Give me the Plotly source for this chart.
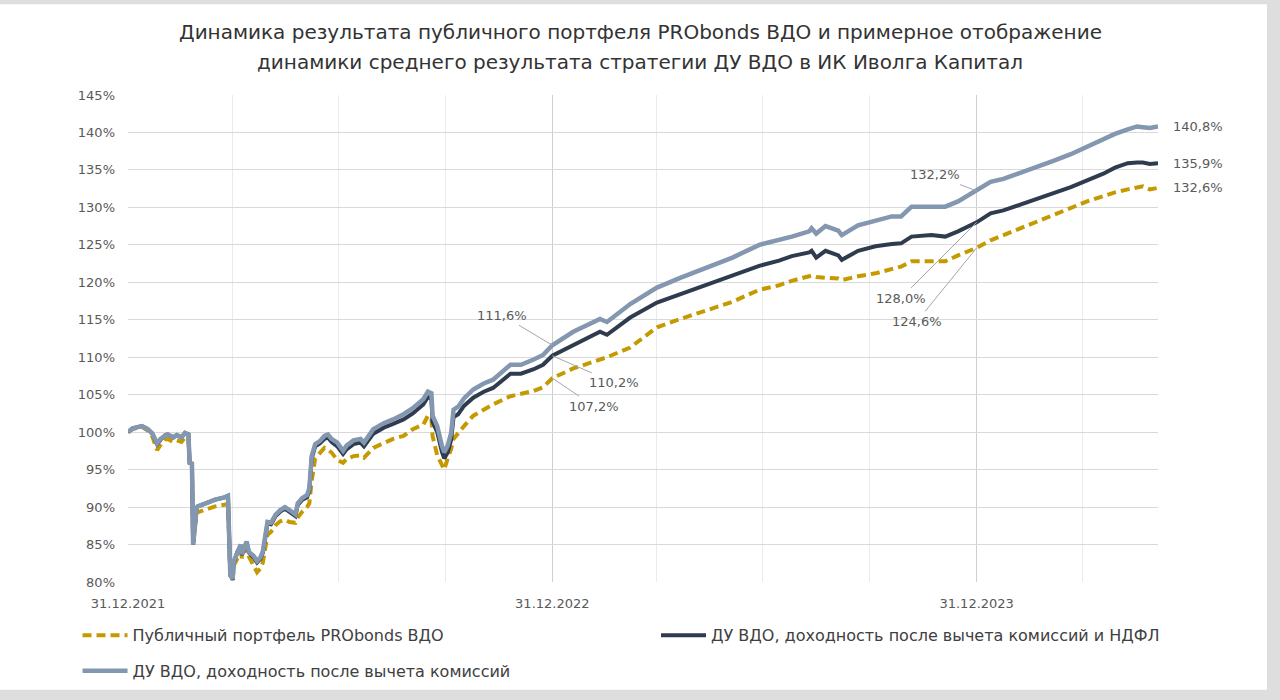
import plotly.graph_objects as go

# ---------------- data ----------------
dates = [
    "2021-12-31", "2022-01-04", "2022-01-12", "2022-01-17", "2022-01-21", "2022-01-25",
    "2022-01-28", "2022-02-01", "2022-02-03", "2022-02-08", "2022-02-11", "2022-02-15",
    "2022-02-18", "2022-02-21", "2022-02-22", "2022-02-24", "2022-02-25", "2022-02-28",
    "2022-03-01", "2022-03-08", "2022-03-16", "2022-03-24", "2022-03-27", "2022-03-29",
    "2022-03-31", "2022-04-01", "2022-04-04", "2022-04-07", "2022-04-08", "2022-04-12",
    "2022-04-14", "2022-04-18", "2022-04-21", "2022-04-24", "2022-04-26", "2022-04-30",
    "2022-05-03", "2022-05-07", "2022-05-11", "2022-05-15", "2022-05-19", "2022-05-24",
    "2022-05-26", "2022-05-30", "2022-06-03", "2022-06-05", "2022-06-07", "2022-06-10",
    "2022-06-14", "2022-06-18", "2022-06-21", "2022-06-24", "2022-06-29", "2022-07-04",
    "2022-07-07", "2022-07-13", "2022-07-19", "2022-07-22", "2022-07-30", "2022-08-08",
    "2022-08-16", "2022-08-25", "2022-09-02", "2022-09-11", "2022-09-15", "2022-09-18",
    "2022-09-19", "2022-09-23", "2022-09-27", "2022-09-29", "2022-10-02", "2022-10-05",
    "2022-10-07", "2022-10-11", "2022-10-16", "2022-10-24", "2022-11-02", "2022-11-10",
    "2022-11-25", "2022-12-04", "2022-12-15", "2022-12-23", "2022-12-31", "2023-01-18",
    "2023-02-10", "2023-02-16", "2023-03-08", "2023-03-31", "2023-04-20", "2023-05-13",
    "2023-06-04", "2023-06-27", "2023-07-14", "2023-07-25", "2023-08-09", "2023-08-11",
    "2023-08-15", "2023-08-23", "2023-09-03", "2023-09-06", "2023-09-20", "2023-10-05",
    "2023-10-19", "2023-10-27", "2023-11-05", "2023-11-22", "2023-12-04", "2023-12-15",
    "2023-12-31", "2024-01-12", "2024-01-23", "2024-02-07", "2024-02-21", "2024-03-06",
    "2024-03-21", "2024-04-04", "2024-04-18", "2024-04-28", "2024-05-09", "2024-05-17",
    "2024-05-22", "2024-05-28", "2024-06-04",
]

# ДУ ВДО, доходность после вычета комиссий (light blue-grey)
du_fees = [
    100.0, 100.5, 100.8, 100.4, 99.8, 98.5, 99.1, 99.6, 99.7, 99.3, 99.6, 99.3,
    99.9, 99.7, 95.9, 95.8, 85.0, 89.9, 90.1, 90.5, 91.0, 91.3, 91.5, 81.0,
    80.4, 82.8, 84.1, 85.0, 83.7, 85.4, 84.0, 83.5, 82.8, 83.3, 84.1, 88.0,
    87.9, 89.0, 89.6, 90.0, 89.6, 89.0, 90.5, 91.2, 91.6, 92.5, 96.8, 98.4,
    98.8, 99.5, 99.7, 99.1, 98.6, 97.5, 98.2, 98.9, 99.1, 98.6, 100.4, 101.2,
    101.7, 102.4, 103.2, 104.4, 105.4, 105.2, 102.2, 100.8, 98.2, 97.3, 98.2, 99.9,
    103.0, 103.4, 104.5, 105.7, 106.5, 107.0, 109.0, 109.0, 109.7, 110.3, 111.6, 113.4,
    115.1, 114.7, 117.1, 119.3, 120.6, 121.9, 123.3, 125.0, 125.6, 126.1, 126.8, 127.2,
    126.5, 127.5, 126.9, 126.3, 127.6, 128.3, 128.8, 128.8, 130.1, 130.1, 130.1, 130.8,
    132.2, 133.4, 133.8, 134.6, 135.4, 136.2, 137.1, 138.1, 139.1, 139.8, 140.4, 140.8,
    140.7, 140.6, 140.8,
]

# ДУ ВДО, доходность после вычета комиссий и НДФЛ (dark navy)
du_fees_tax = [
    100.0, 100.5, 100.8, 100.4, 99.8, 98.4, 99.0, 99.6, 99.7, 99.3, 99.6, 99.3,
    99.9, 99.7, 95.9, 95.8, 85.0, 89.9, 90.1, 90.5, 91.0, 91.3, 91.5, 81.0,
    80.3, 82.6, 84.0, 84.9, 83.6, 85.3, 83.9, 83.3, 82.6, 83.1, 83.9, 87.8,
    87.7, 88.8, 89.4, 89.8, 89.4, 88.8, 90.3, 91.0, 91.3, 92.2, 96.5, 98.1,
    98.5, 99.1, 99.3, 98.7, 98.1, 97.1, 97.7, 98.4, 98.6, 98.1, 99.8, 100.6,
    101.1, 101.7, 102.5, 103.7, 104.7, 104.4, 101.4, 100.0, 97.4, 96.5, 97.3, 99.0,
    102.0, 102.4, 103.5, 104.6, 105.4, 105.9, 107.8, 107.8, 108.4, 109.0, 110.2, 111.6,
    113.4, 113.0, 115.3, 117.3, 118.4, 119.7, 120.9, 122.2, 122.9, 123.5, 124.0, 124.2,
    123.3, 124.2, 123.6, 123.0, 124.2, 124.8, 125.1, 125.2, 126.1, 126.3, 126.1, 126.8,
    128.0, 129.2, 129.6, 130.4, 131.2, 131.9, 132.7, 133.6, 134.5, 135.3, 135.9, 136.0,
    136.0, 135.8, 135.9,
]

# Публичный портфель PRObonds ВДО (gold, dashed)
probonds = [
    100.0, 100.4, 100.7, 100.2, 99.4, 97.6, 98.3, 99.0, 99.1, 98.7, 98.9, 98.7,
    99.3, 99.2, 95.6, 95.5, 84.9, 89.3, 89.3, 89.7, 90.1, 90.3, 90.4, 80.8,
    80.2, 82.2, 83.2, 84.0, 83.2, 84.6, 83.4, 82.3, 81.3, 81.8, 82.6, 86.3,
    86.7, 87.6, 88.1, 88.3, 88.0, 87.9, 88.6, 89.4, 90.0, 90.5, 93.5, 96.5,
    97.3, 97.9, 97.6, 97.3, 96.3, 95.9, 96.4, 96.8, 96.9, 96.6, 97.9, 98.6,
    99.1, 99.5, 100.4, 101.0, 102.2, 101.8, 99.5, 96.9, 95.5, 95.0, 96.5, 97.8,
    99.1, 99.9, 100.8, 102.2, 103.0, 103.7, 104.8, 105.1, 105.5, 106.0, 107.2, 108.5,
    109.7, 110.0, 111.3, 114.0, 115.1, 116.3, 117.4, 119.0, 119.6, 120.2, 120.9, 120.9,
    120.7, 120.6, 120.5, 120.3, 120.8, 121.2, 121.7, 122.1, 122.8, 122.8, 122.8, 123.6,
    124.6, 125.6, 126.3, 127.2, 128.1, 128.9, 129.9, 130.8, 131.5, 132.0, 132.4, 132.7,
    132.8, 132.4, 132.6,
]

series_names = [
    "Публичный портфель PRObonds ВДО",
    "ДУ ВДО, доходность после вычета комиссий и НДФЛ",
    "ДУ ВДО, доходность после вычета комиссий",
]

title_lines = [
    "Динамика результата публичного портфеля PRObonds ВДО и примерное отображение",
    "динамики среднего результата стратегии ДУ ВДО в ИК Иволга Капитал",
]

x_range = ["2021-12-31", "2024-06-04"]
year_ticks = ["2021-12-31", "2022-12-31", "2023-12-31"]
year_labels = ["31.12.2021", "31.12.2022", "31.12.2023"]
quarter_ticks = ["2022-03-31", "2022-06-30", "2022-09-30", "2023-03-31",
                 "2023-06-30", "2023-09-30", "2024-03-31", "2024-06-30"]
y_ticks = [80, 85, 90, 95, 100, 105, 110, 115, 120, 125, 130, 135, 140, 145]
y_labels = [f"{v}%" for v in y_ticks]

# ---------------- styling ----------------
FONT = "DejaVu Sans"
C_GOLD = "#C49A00"
C_NAVY = "#2F3B4E"
C_LIGHT = "#8497B0"
C_TEXT = "#595959"

fig = go.Figure()
fig.add_trace(go.Scatter(x=dates, y=probonds, mode="lines", name=series_names[0],
                         line=dict(color=C_GOLD, width=4, dash="9px,5px"),
                         legend="legend", hoverinfo="skip"))
fig.add_trace(go.Scatter(x=dates, y=du_fees_tax, mode="lines", name=series_names[1],
                         line=dict(color=C_NAVY, width=4),
                         legend="legend2", hoverinfo="skip"))
fig.add_trace(go.Scatter(x=dates, y=du_fees, mode="lines", name=series_names[2],
                         line=dict(color=C_LIGHT, width=4.5),
                         legend="legend3", hoverinfo="skip"))


def fmt(v):
    return f"{v:.1f}%".replace(".", ",")


annotations = []
# title (two lines, as in the reference)
for line, ypx in zip(title_lines, (31, 62)):
    annotations.append(dict(
        text=line, xref="paper", yref="paper", x=(640 - 128) / 1030,
        y=(588 - ypx) / 493, xanchor="center", yanchor="middle", showarrow=False,
        font=dict(family=FONT, size=20, color="#333333")))

# labels with leader lines at 31.12.2022 and 31.12.2023
i22 = dates.index("2022-12-31")
i23 = dates.index("2023-12-31")
leader_specs = [
    (i22, du_fees, -50, -30),
    (i22, du_fees_tax, 62, 27),
    (i22, probonds, 42, 28),
    (i23, du_fees, -42, -16),
    (i23, du_fees_tax, -76, 76),
    (i23, probonds, -60, 74),
]
for idx, ser, ax, ay in leader_specs:
    annotations.append(dict(
        x=dates[idx], y=ser[idx], xref="x", yref="y", text=fmt(ser[idx]),
        showarrow=True, arrowhead=0, arrowwidth=1, arrowcolor="#a6a6a6",
        ax=ax, ay=ay, standoff=0, startstandoff=2,
        font=dict(family=FONT, size=13, color=C_TEXT)))
# end labels
for ser in (du_fees, du_fees_tax, probonds):
    annotations.append(dict(
        x=dates[-1], y=ser[-1], xref="x", yref="y", text=fmt(ser[-1]),
        showarrow=False, xanchor="left", xshift=13,
        font=dict(family=FONT, size=13, color=C_TEXT)))

legend_common = dict(orientation="h", xanchor="left", yanchor="middle",
                     itemwidth=45, bgcolor="rgba(0,0,0,0)",
                     font=dict(family=FONT, size=16, color="#404040"))

fig.update_layout(
    width=1280, height=700,
    margin=dict(l=128, r=122, t=95, b=112),
    paper_bgcolor="#dedede",
    plot_bgcolor="white",
    font=dict(family=FONT, color=C_TEXT),
    xaxis=dict(type="date", range=x_range, tickmode="array", tickvals=year_ticks,
               ticktext=year_labels, showgrid=True, gridcolor="#cfcfcf", gridwidth=1,
               minor=dict(tickmode="array", tickvals=quarter_ticks, showgrid=True,
                          gridcolor="#ebebeb", gridwidth=1),
               zeroline=False, showline=False, ticks="",
               tickfont=dict(family=FONT, size=13, color=C_TEXT), ticklabelstandoff=12),
    yaxis=dict(range=[80, 145], tickmode="array", tickvals=y_ticks, ticktext=y_labels,
               showgrid=True, gridcolor="#d9d9d9", gridwidth=1,
               zeroline=False, showline=False, ticks="",
               tickfont=dict(family=FONT, size=13, color=C_TEXT), ticklabelstandoff=12),
    legend=dict(x=-0.049, y=(588 - 642) / 493, **legend_common),
    legend2=dict(x=(656 - 128) / 1030, y=(588 - 642) / 493, **legend_common),
    legend3=dict(x=-0.049, y=(588 - 678) / 493, **legend_common),
    annotations=annotations,
    shapes=[dict(type="rect", xref="paper", yref="paper",
                 x0=-0.1243, x1=1.1058, y0=-0.2211, y1=1.1866,
                 fillcolor="white", line=dict(width=0), layer="below")],
    showlegend=True,
)

fig.write_html("out.html", config={"displayModeBar": False},
               post_script="document.body.style.margin='0';")
